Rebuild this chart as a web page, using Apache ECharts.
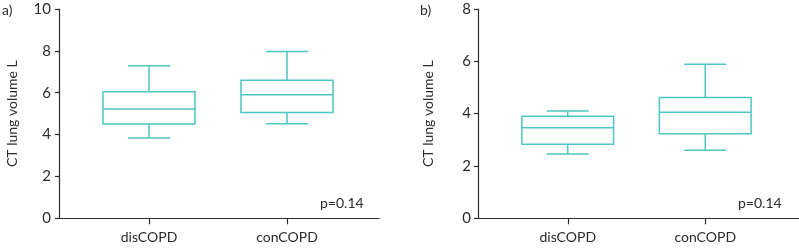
<!DOCTYPE html>
<html>
<head>
<meta charset="utf-8">
<script src="https://cdn.jsdelivr.net/npm/echarts@6/dist/echarts.min.js"></script>
<style>
html, body { margin: 0; padding: 0; background: #fff; }
#chart { width: 799px; height: 249px; }
</style>
</head>
<body>
<div id="chart"></div>
<script>
// 分组
const categories = ['disCOPD', 'conCOPD']
// [min, Q1, median, Q3, max]
const boxA = [
    [3.84, 4.5, 5.22, 6.05, 7.29],
    [4.52, 5.06, 5.9, 6.6, 7.97]
]
const boxB = [
    [2.46, 2.83, 3.46, 3.9, 4.1],
    [2.6, 3.23, 4.05, 4.62, 5.89]
]
const yTicksA = [0, 2, 4, 6, 8, 10]
const yTicksB = [0, 2, 4, 6, 8]
const pText = 'p=0.14'

const teal = '#4cc6c2'
const ink = '#2b2b2b'
const font = 'Lato'

function renderBox (params, api) {
    const idx = api.value(0)
    const band = api.size([1, 0])[0]
    const boxW = band * 0.667
    const capW = band * 0.305
    const x = api.coord([idx, 0])[0]
    const yMin = api.coord([idx, api.value(1)])[1]
    const yQ1 = api.coord([idx, api.value(2)])[1]
    const yMed = api.coord([idx, api.value(3)])[1]
    const yQ3 = api.coord([idx, api.value(4)])[1]
    const yMax = api.coord([idx, api.value(5)])[1]
    const style = { stroke: teal, lineWidth: 1.5, fill: null }
    const line = (x1, y1, x2, y2) => ({ type: 'line', shape: { x1, y1, x2, y2 }, style })
    return {
        type: 'group',
        children: [
            { type: 'rect', shape: { x: x - boxW / 2, y: yQ3, width: boxW, height: yQ1 - yQ3 }, style },
            line(x - boxW / 2, yMed, x + boxW / 2, yMed),
            line(x, yQ3, x, yMax),
            line(x, yQ1, x, yMin),
            line(x - capW / 2, yMax, x + capW / 2, yMax),
            line(x - capW / 2, yMin, x + capW / 2, yMin)
        ]
    }
}

function panel (gi, box, ticks, frame, inner, nameGap, labelMargin) {
    const max = ticks[ticks.length - 1]
    const grids = [
        { left: frame.left, width: frame.width, top: 9, height: 209.3 },
        { left: inner.left, width: inner.width, top: 9, height: 209.3 }
    ]
    const xAxes = [
        {
            gridIndex: gi, type: 'value', min: 0, max: 1,
            axisLine: { show: true, lineStyle: { color: ink, width: 1.2 } },
            axisTick: { show: false }, axisLabel: { show: false }, splitLine: { show: false }
        },
        {
            gridIndex: gi + 1, type: 'category', data: categories,
            axisLine: { show: false },
            axisTick: { show: true, alignWithLabel: true, length: 6, lineStyle: { color: ink, width: 1.2 } },
            axisLabel: { color: ink, fontSize: 14, fontFamily: font, margin: 12 },
            splitLine: { show: false }
        }
    ]
    const yAxes = [
        {
            gridIndex: gi, type: 'value', min: 0, max: max, interval: 2,
            name: 'CT lung volume L', nameLocation: 'middle', nameGap: nameGap,
            nameTextStyle: { color: ink, fontSize: 14, fontFamily: font },
            axisLine: { show: true, lineStyle: { color: ink, width: 1.2 } },
            axisTick: { show: true, length: 4, lineStyle: { color: ink, width: 1.2 } },
            axisLabel: { color: ink, fontSize: 15, fontFamily: font, margin: labelMargin },
            splitLine: { show: false }
        },
        {
            gridIndex: gi + 1, type: 'value', min: 0, max: max, show: false, splitLine: { show: false }
        }
    ]
    const series = [{
        type: 'custom',
        xAxisIndex: gi + 1,
        yAxisIndex: gi + 1,
        renderItem: renderBox,
        encode: { x: 0, y: [1, 2, 3, 4, 5] },
        data: box.map((b, i) => [i].concat(b)),
        silent: true
    }]
    return { grids, xAxes, yAxes, series }
}

const pa = panel(0, boxA, yTicksA, { left: 59, width: 320 }, { left: 80, width: 276 }, 40, 8)
const pb = panel(2, boxB, yTicksB, { left: 478, width: 321 }, { left: 499, width: 275 }, 43, 7)

const chart = echarts.init(document.getElementById('chart'), null, { renderer: 'canvas' })
chart.setOption({
    animation: false,
    grid: pa.grids.concat(pb.grids),
    xAxis: pa.xAxes.concat(pb.xAxes),
    yAxis: pa.yAxes.concat(pb.yAxes),
    series: pa.series.concat(pb.series),
    graphic: [
        { type: 'text', left: 2, top: 3, style: { text: 'a)', fontSize: 14, fontFamily: font, fill: ink } },
        { type: 'text', left: 420, top: 3, style: { text: 'b)', fontSize: 14, fontFamily: font, fill: ink } },
        { type: 'text', left: 320, top: 196, style: { text: pText, fontSize: 14, fontFamily: font, fill: ink } },
        { type: 'text', left: 738, top: 196, style: { text: pText, fontSize: 14, fontFamily: font, fill: ink } }
    ]
})
</script>
</body>
</html>
